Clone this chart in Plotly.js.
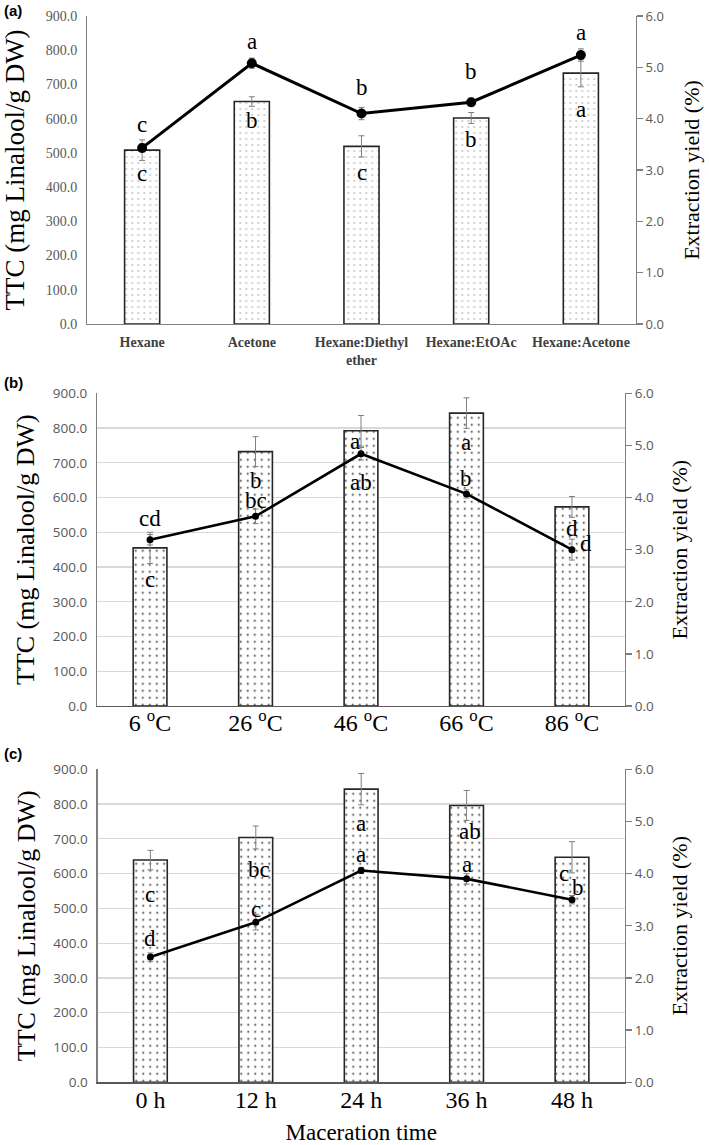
<!DOCTYPE html>
<html>
<head>
<meta charset="utf-8">
<script src="https://cdn.plot.ly/plotly-3.0.1.min.js"></script>
<style>html,body{margin:0;padding:0;background:#fff;}#chart{width:709px;height:1145px;}</style>
</head>
<body>
<div id="chart"></div>
<script>
// ---------- Panel (a): solvent ----------
const catsA = ['Hexane', 'Acetone', 'Hexane:Diethyl<br>ether', 'Hexane:EtOAc', 'Hexane:Acetone'];
const ttcA = [508, 650, 519, 602, 733];
const ttcErrA = [30, 14, 31, 16, 40];
const yieldA = [3.43, 5.08, 4.10, 4.32, 5.24];
const yieldErrA = [0.08, 0.10, 0.12, 0.08, 0.12];
const lineLettersA = ['c', 'a', 'b', 'b', 'a'];
const lineLetterPosA = [583, 825, 692, 737, 852];
const barLettersA = ['c', 'b', 'c', 'b', 'a'];
const barLetterPosA = [441, 594, 442, 538, 627];

// ---------- Panel (b): temperature ----------
const catsB = ['6 <sup>o</sup>C', '26 <sup>o</sup>C', '46 <sup>o</sup>C', '66 <sup>o</sup>C', '86 <sup>o</sup>C'];
const ttcB = [455, 732, 792, 843, 573];
const ttcErrB = [45, 43, 44, 44, 30];
const yieldB = [3.19, 3.64, 4.84, 4.07, 3.00];
const yieldErrB = [0.10, 0.14, 0.12, 0.08, 0.20];
const lineLettersB = ['cd', 'bc', 'ab', 'b', 'd'];
const lineLetterPosB = [539, 591, 642, 654, 468];
const barLettersB = ['c', 'b', 'a', 'a', 'd'];
const barLetterPosB = [364, 649, 761, 757, 511];

// ---------- Panel (c): maceration time ----------
const catsC = ['0 h', '12 h', '24 h', '36 h', '48 h'];
const ttcC = [639, 704, 843, 796, 647];
const ttcErrC = [28, 33, 45, 43, 45];
const yieldC = [2.40, 3.07, 4.06, 3.90, 3.50];
const yieldErrC = [0.08, 0.15, 0.06, 0.10, 0.08];
const lineLettersC = ['d', 'c', 'a', 'a', 'b'];
const lineLetterPosC = [413, 498, 654, 625, 561];
const barLettersC = ['c', 'bc', 'a', 'ab', 'c'];
const barLetterPosC = [541, 612, 743, 721, 601];

const ttcTicks = [0, 100, 200, 300, 400, 500, 600, 700, 800, 900];
const yieldTicks = [0, 1, 2, 3, 4, 5, 6];

const SERIF = 'Liberation Serif, Times New Roman, serif';
const SANS = 'Open Sans, Noto Sans, sans-serif';

const traces = [];
const annotations = [];

function addPanel(n, cats, ttc, ttcErr, yld, yldErr, opt) {
  const xa = n === 1 ? 'x' : 'x' + n;
  const yl = n === 1 ? 'y' : 'y' + (2 * n - 1);
  const yr = 'y' + (2 * n);
  traces.push({
    type: 'bar', x: cats, y: ttc, xaxis: xa, yaxis: yl, width: 0.32,
    marker: {color: 'white', line: {color: '#262626', width: 1.6},
      pattern: {shape: '.', fgcolor: opt.dot, bgcolor: 'white', size: opt.ps, solidity: opt.sol}},
    error_y: {type: 'data', array: ttcErr, visible: true, color: '#7f7f7f', thickness: 1, width: 3},
    showlegend: false, hoverinfo: 'skip'
  });
  traces.push({
    type: 'scatter', mode: 'lines+markers', x: cats, y: yld, xaxis: xa, yaxis: yr,
    line: {color: '#000', width: opt.lw},
    marker: {color: '#000', size: opt.ms},
    error_y: {type: 'data', array: yldErr, visible: true, color: '#7f7f7f', thickness: 1, width: 3},
    showlegend: false, hoverinfo: 'skip'
  });
  const addL = (letters, pos, shifts) => letters.forEach((t, i) => annotations.push({
    x: cats[i], y: pos[i], xref: xa, yref: yl, text: t, showarrow: false,
    xshift: shifts ? shifts[i] : 0,
    font: {family: SERIF, size: 23, color: '#000'}
  }));
  addL(opt.lineLetters, opt.lineLetterPos, opt.lineShift);
  addL(opt.barLetters, opt.barLetterPos, opt.barShift);
}

addPanel(1, catsA, ttcA, ttcErrA, yieldA, yieldErrA, {
  dot: '#9a9a9a', ps: 6, sol: 0.06, lw: 3, ms: 10,
  lineLetters: lineLettersA, lineLetterPos: lineLetterPosA,
  barLetters: barLettersA, barLetterPos: barLetterPosA
});
addPanel(2, catsB, ttcB, ttcErrB, yieldB, yieldErrB, {
  dot: '#222', ps: 7, sol: 0.05, lw: 2.6, ms: 7,
  lineLetters: lineLettersB, lineLetterPos: lineLetterPosB, lineShift: [0, 0, 0, 0, 14],
  barLetters: barLettersB, barLetterPos: barLetterPosB, barShift: [0, 0, -6, 0, 0]
});
addPanel(3, catsC, ttcC, ttcErrC, yieldC, yieldErrC, {
  dot: '#222', ps: 7, sol: 0.05, lw: 2.6, ms: 7,
  lineLetters: lineLettersC, lineLetterPos: lineLetterPosC, lineShift: [0, 0, 0, 0, 6],
  barLetters: barLettersC, barLetterPos: barLetterPosC, barShift: [0, 3, 0, 3, -8]
});

const H = 1145, W = 709;
const px = v => v / W;
const py = v => 1 - v / H;

function xAxis(domain, anchor, font, extra) {
  return Object.assign({
    domain: domain, anchor: anchor, type: 'category', range: [-0.5, 4.5],
    showline: true, linecolor: '#7f7f7f', linewidth: 1.3, ticks: '', showgrid: false,
    tickfont: font, zeroline: false, fixedrange: true
  }, extra || {});
}
function yLeft(domain, anchor, grid, font, titleSize, standoff) {
  return {
    domain: domain, anchor: anchor, range: [0, 900], tickvals: ttcTicks,
    tickformat: '.1f', showline: true, linecolor: '#7f7f7f', linewidth: 1.3,
    ticks: '', showgrid: grid, gridcolor: '#d9d9d9', gridwidth: 1.2, zeroline: false,
    tickfont: font, ticklabelstandoff: 6,
    title: {text: 'TTC (mg Linalool/g DW)', font: {family: SERIF, size: titleSize, color: '#000'}, standoff: standoff},
    fixedrange: true
  };
}
function yRight(domain, anchor, overlay, font, standoff) {
  return {
    domain: domain, anchor: anchor, overlaying: overlay, side: 'right', range: [0, 6],
    tickvals: yieldTicks, tickformat: '.1f', showline: true, linecolor: '#7f7f7f', linewidth: 1.3,
    ticks: 'outside', ticklen: 6, tickcolor: '#7f7f7f', tickwidth: 1.3,
    showgrid: false, zeroline: false, tickfont: font,
    title: {text: 'Extraction yield (%)', font: {family: SERIF, size: 22, color: '#000'}, standoff: standoff},
    fixedrange: true
  };
}

const tickGray = '#595959';
const layout = {
  width: W, height: H, margin: {l: 0, r: 0, t: 0, b: 0},
  paper_bgcolor: '#fff', plot_bgcolor: 'rgba(0,0,0,0)',
  barmode: 'overlay', showlegend: false,
  xaxis: xAxis([px(87.3), px(635.7)], 'y',
    {family: SERIF, size: 14, color: '#404040', weight: 'bold'}, {ticklabelstandoff: 5}),
  yaxis: yLeft([py(324), py(16)], 'x', false, {family: SERIF, size: 14, color: tickGray}, 27, 14),
  yaxis2: yRight([py(324), py(16)], 'x', 'y', {family: SANS, size: 13, color: tickGray}, 20),
  xaxis2: xAxis([px(97.3), px(624.7)], 'y3',
    {family: SERIF, size: 24, color: '#000'}, {linecolor: '#595959', ticklabelstandoff: -5}),
  yaxis3: yLeft([py(706), py(393.3)], 'x2', true, {family: SANS, size: 13.5, color: tickGray}, 26, 10),
  yaxis4: yRight([py(706), py(393.3)], 'x2', 'y3', {family: SANS, size: 13.5, color: tickGray}, 18),
  xaxis3: xAxis([px(97.7), px(624.7)], 'y5',
    {family: SERIF, size: 24, color: '#000'},
    {linecolor: '#595959', ticklabelstandoff: -4,
     title: {text: 'Maceration time', font: {family: SERIF, size: 23, color: '#000'}, standoff: 18}}),
  yaxis5: yLeft([py(1082.3), py(769.3)], 'x3', true, {family: SANS, size: 13.5, color: tickGray}, 26, 10),
  yaxis6: yRight([py(1082.3), py(769.3)], 'x3', 'y5', {family: SANS, size: 13.5, color: tickGray}, 18),
  annotations: annotations.concat([
    {text: '(a)', x: px(2), y: py(0), xref: 'paper', yref: 'paper', xanchor: 'left', yanchor: 'top', showarrow: false,
     font: {family: 'Liberation Sans, Arial, sans-serif', size: 15, weight: 'bold', color: '#000'}},
    {text: '(b)', x: px(2), y: py(372), xref: 'paper', yref: 'paper', xanchor: 'left', yanchor: 'top', showarrow: false,
     font: {family: 'Liberation Sans, Arial, sans-serif', size: 15, weight: 'bold', color: '#000'}},
    {text: '(c)', x: px(2), y: py(743), xref: 'paper', yref: 'paper', xanchor: 'left', yanchor: 'top', showarrow: false,
     font: {family: 'Liberation Sans, Arial, sans-serif', size: 15, weight: 'bold', color: '#000'}}
  ])
};

Plotly.newPlot('chart', traces, layout, {displayModeBar: false, staticPlot: true});
</script>
</body>
</html>
